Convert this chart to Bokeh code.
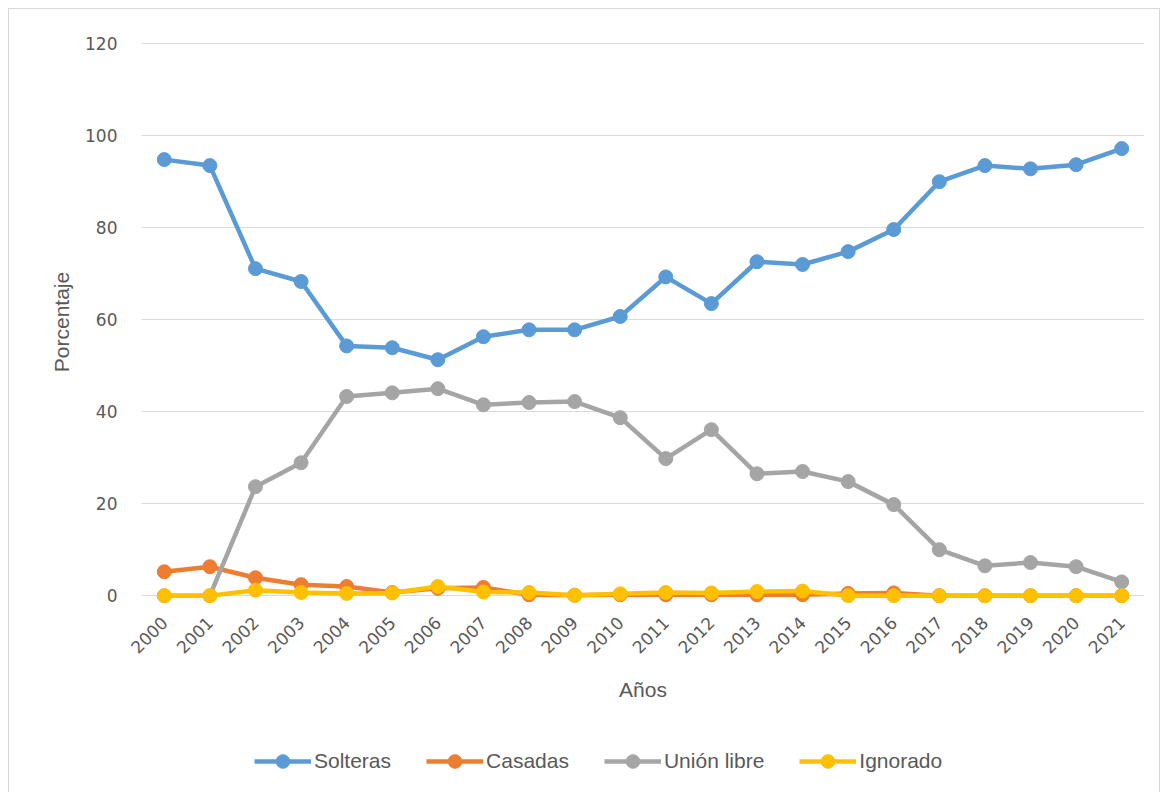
from bokeh.plotting import figure
from bokeh.layouts import column
from bokeh.models import FactorRange, Range1d, FixedTicker, Legend, LegendItem
from bokeh.embed import file_html
from bokeh.resources import INLINE
import math

years = [str(y) for y in range(2000, 2022)]
solteras = [94.8, 93.5, 71.1, 68.3, 54.3, 53.9, 51.3, 56.3, 57.8, 57.8, 60.7,
            69.3, 63.5, 72.6, 72.0, 74.8, 79.6, 90.0, 93.5, 92.8, 93.7, 97.2]
casadas = [5.2, 6.3, 3.9, 2.4, 2.0, 0.7, 1.6, 1.8, 0.2, 0.1, 0.2,
           0.2, 0.2, 0.2, 0.2, 0.5, 0.6, 0.0, 0.0, 0.0, 0.0, 0.0]
union_libre = [0.0, 0.0, 23.7, 28.9, 43.3, 44.1, 45.0, 41.5, 42.0, 42.2, 38.7,
               29.8, 36.1, 26.5, 27.0, 24.8, 19.8, 10.0, 6.5, 7.2, 6.3, 3.0]
ignorado = [0.0, 0.0, 1.2, 0.7, 0.5, 0.6, 2.0, 0.8, 0.7, 0.1, 0.4,
            0.7, 0.6, 0.9, 1.0, 0.0, 0.0, 0.0, 0.0, 0.0, 0.0, 0.0]
y_ticks = [0, 20, 40, 60, 80, 100, 120]

series = [
    ("Solteras", solteras, "#5B9BD5"),
    ("Casadas", casadas, "#ED7D31"),
    ("Unión libre", union_libre, "#A5A5A5"),
    ("Ignorado", ignorado, "#FFC000"),
]

TEXT = "#595959"

# main chart
p = figure(width=1150, height=712, x_range=FactorRange(*years),
           y_range=Range1d(-3, 122), output_backend="svg", toolbar_location=None,
           min_border_left=132, min_border_right=15, min_border_top=25,
           min_border_bottom=112)
p.outline_line_color = None
p.x_range.range_padding = 0
p.xgrid.grid_line_color = None
p.ygrid.grid_line_color = "#d9d9d9"
p.ygrid.grid_line_width = 1
p.yaxis.ticker = FixedTicker(ticks=y_ticks)

for ax in (p.xaxis, p.yaxis):
    ax.axis_line_color = None
    ax.major_tick_line_color = None
    ax.minor_tick_line_color = None
    ax.major_label_text_color = TEXT
    ax.axis_label_text_color = TEXT
    ax.axis_label_text_font_style = "normal"
    ax.axis_label_text_font = "Liberation Sans"
    ax.axis_label_text_font_size = "21px"
    ax.major_label_text_font = "DejaVu Sans"
    ax.major_label_text_font_size = "17px"

p.yaxis.axis_label = "Porcentaje"
p.yaxis.major_label_standoff = 18
p.yaxis.axis_label_standoff = 9
p.xaxis.axis_label = "Años"
p.xaxis.major_label_orientation = math.pi / 4
p.xaxis.major_label_standoff = 4
p.xaxis.axis_label_standoff = 16

for name, vals, color in series:
    p.line(years, vals, line_color=color, line_width=4.5)
    p.scatter(years, vals, size=14, fill_color=color, line_color=color)

# legend strip: same series, drawn off-view so only the legend glyphs show
lg = figure(width=1150, height=73, x_range=FactorRange(*years),
            y_range=Range1d(1000, 1001), output_backend="svg",
            toolbar_location=None, x_axis_location=None, y_axis_location=None,
            min_border=0)
lg.outline_line_color = None
lg.xgrid.grid_line_color = None
lg.ygrid.grid_line_color = None
items = []
for name, vals, color in series:
    l = lg.line(years, vals, line_color=color, line_width=4.5)
    s = lg.scatter(years, vals, size=14, fill_color=color, line_color=color)
    items.append(LegendItem(label=name, renderers=[l, s]))

legend = Legend(items=items, orientation="horizontal", location=(113, 16),
                border_line_color=None, background_fill_alpha=0,
                label_text_font="Liberation Sans", label_text_font_size="21px",
                label_text_color=TEXT, glyph_width=57, glyph_height=34,
                label_standoff=3, spacing=35, padding=0, margin=0)
lg.add_layout(legend, "center")

layout = column(p, lg, spacing=0, margin=(8, 0, 0, 8),
                styles={"border": "1px solid #d9d9d9"})

open("out.html", "w").write(file_html(layout, INLINE))
